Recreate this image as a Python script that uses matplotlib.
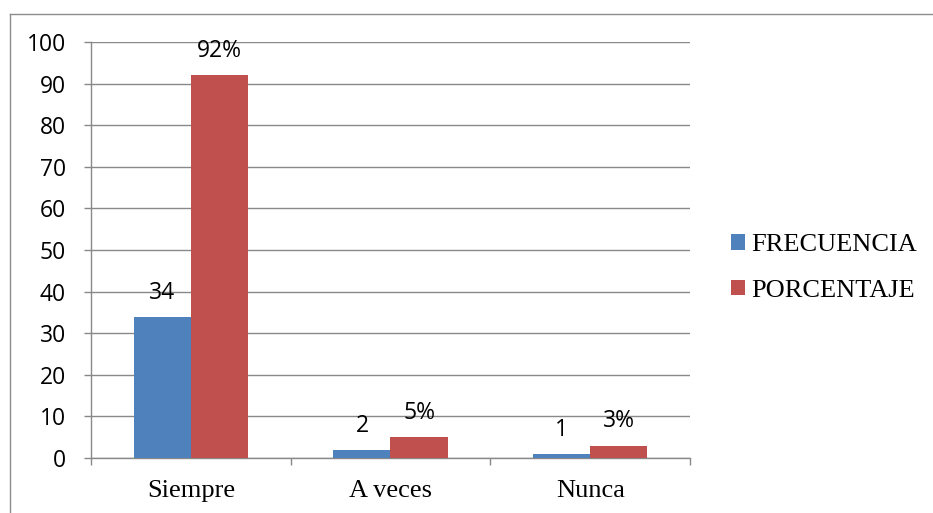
import matplotlib
matplotlib.use("Agg")
import matplotlib.pyplot as plt
import numpy as np
from matplotlib.lines import Line2D

categories = ["Siempre", "A veces", "Nunca"]
frecuencia = [34, 2, 1]
porcentaje = [92, 5, 3]
frec_labels = ["34", "2", "1"]
porc_labels = ["92%", "5%", "3%"]
yticks = [0, 10, 20, 30, 40, 50, 60, 70, 80, 90, 100]

blue = "#4F81BD"
red = "#C0504D"
grey = "#898989"
numfont = "Open Sans"

fig = plt.figure(figsize=(9.33, 5.13), dpi=100)
ax = fig.add_axes([91 / 933, 55 / 513, 599 / 933, 416 / 513])

x = np.arange(len(categories))
w = 0.2857
b1 = ax.bar(x - w / 2, frecuencia, w, color=blue, label="FRECUENCIA", zorder=3)
b2 = ax.bar(x + w / 2, porcentaje, w, color=red, label="PORCENTAJE", zorder=3)

# etiquetas de datos
for rect, txt in zip(b1, frec_labels):
    ax.annotate(txt, (rect.get_x() + rect.get_width() / 2, rect.get_height()),
                xytext=(0, 13), textcoords="offset points", ha="center", va="baseline",
                fontsize=16.5, family=numfont)
for rect, txt in zip(b2, porc_labels):
    ax.annotate(txt, (rect.get_x() + rect.get_width() / 2, rect.get_height()),
                xytext=(0, 13), textcoords="offset points", ha="center", va="baseline",
                fontsize=16.5, family=numfont)

ax.set_xlim(-0.5, 2.5)
ax.set_ylim(0, 100)
ax.set_yticks(yticks)
ax.set_yticklabels([str(v) for v in yticks], fontsize=16.5, family=numfont)
ax.yaxis.grid(True, color=grey, linewidth=1.0, zorder=0)
ax.set_axisbelow(True)

ax.set_xticks(x)
ax.set_xticklabels(categories, fontsize=19, family="Liberation Serif")
ax.set_xticks([-0.5, 0.5, 1.5, 2.5], minor=True)
ax.tick_params(axis="x", which="major", length=0, pad=16)
ax.tick_params(axis="x", which="minor", length=5, width=1.0, color=grey)
ax.tick_params(axis="y", length=5, width=1.0, color=grey, pad=13)

for s in ["top", "right"]:
    ax.spines[s].set_visible(False)
for s in ["left", "bottom"]:
    ax.spines[s].set_color(grey)
    ax.spines[s].set_linewidth(1.0)

fig.legend(handles=[b1, b2], loc="center left", bbox_to_anchor=(731 / 933, 1 - 268 / 513),
           frameon=False, prop={"family": "Liberation Serif", "size": 19},
           handlelength=0.53, handleheight=0.53, handletextpad=0.22,
           labelspacing=0.9, borderpad=0, borderaxespad=0)

# marco del gráfico (solo se ven lados superior e izquierdo)
fig.add_artist(Line2D([9.5 / 933, 1.0], [1 - 13.5 / 513, 1 - 13.5 / 513],
                      transform=fig.transFigure, color="#8c8c8c", linewidth=1.0))
fig.add_artist(Line2D([9.5 / 933, 9.5 / 933], [0.0, 1 - 13.5 / 513],
                      transform=fig.transFigure, color="#8c8c8c", linewidth=1.0))

fig.savefig("out.png", dpi=100)
